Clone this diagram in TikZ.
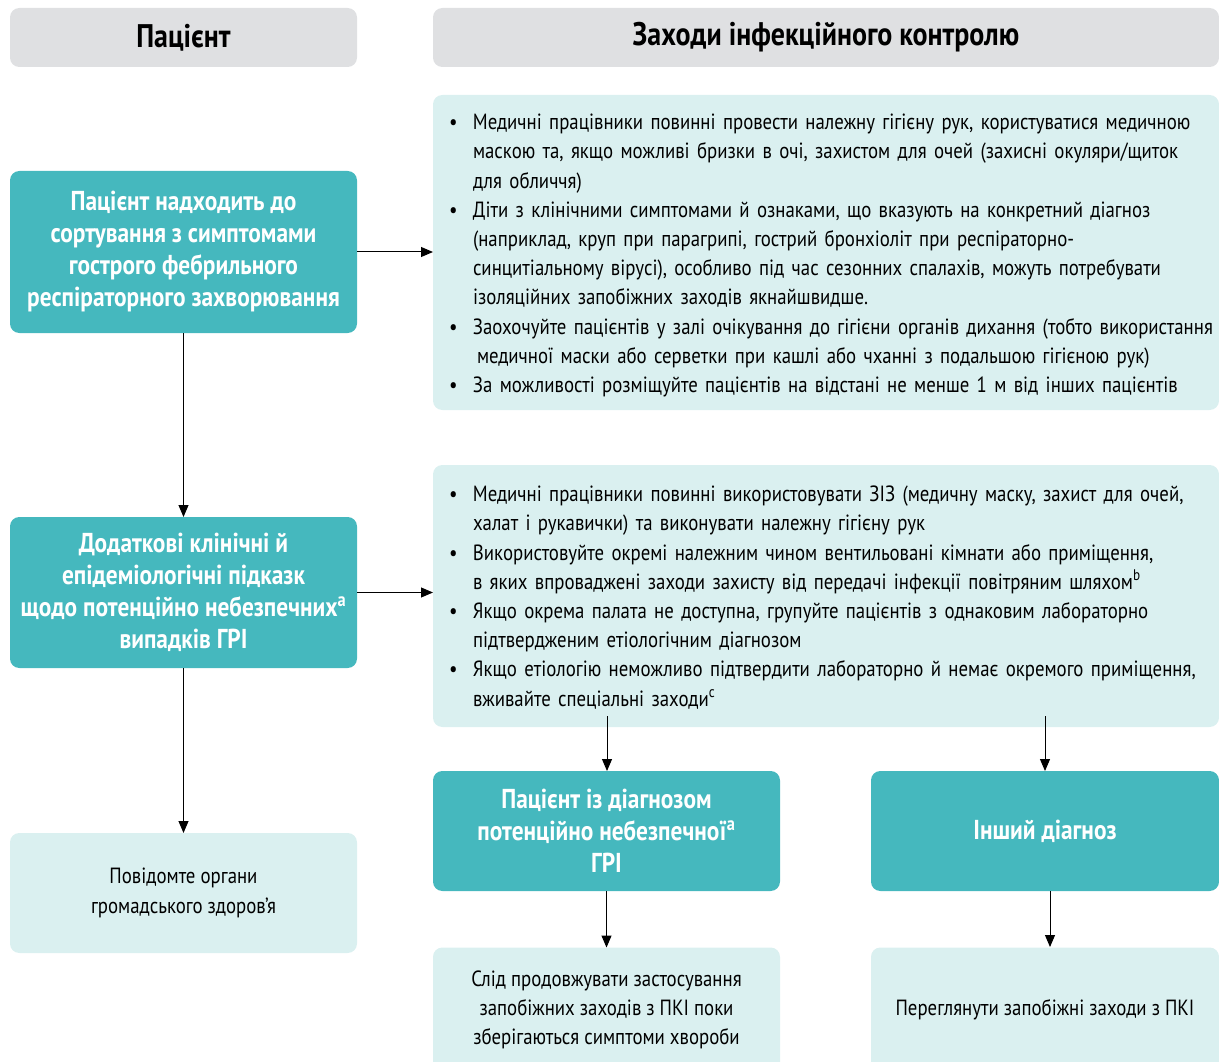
\documentclass[tikz,border=0pt]{standalone}
\usepackage{fontspec}
\setmainfont{PT Sans}[FakeStretch=0.855]
\usetikzlibrary{arrows.meta}

\definecolor{tealfill}{RGB}{69,184,190}
\definecolor{palefill}{RGB}{218,240,240}
\definecolor{headfill}{RGB}{223,224,226}

\newcommand{\bodyfont}{\fontsize{16.5}{21.9}\selectfont}
\newcommand{\boldfont}{\fontsize{20.5}{24}\selectfont\bfseries}
\newcommand{\bul}{\hspace{3pt}\textbullet}

\begin{document}
\begin{tikzpicture}[x=0.75pt,y=-0.75pt,
  boxw/.style={minimum width=#1*0.75pt},
  boxh/.style={minimum height=#1*0.75pt},
  basebox/.style={rounded corners=7pt, inner sep=0pt, outer sep=0pt, draw=none},
  headbox/.style={basebox, fill=headfill, font=\fontsize{24.5}{28}\selectfont\bfseries, text=black},
  tealbox/.style={basebox, fill=tealfill, font=\boldfont, text=white, align=center},
  palebox/.style={basebox, fill=palefill, font=\bodyfont, text=black, align=center},
  listbox/.style={basebox, fill=palefill, font=\bodyfont, text=black, align=left,
                  text width=#1*0.75pt-18pt, inner xsep=9pt},
  arr/.style={-{Triangle[length=9pt,width=7.5pt]}, line width=0.75pt, draw=black}
]
\useasboundingbox (0,0) rectangle (1219,1062);

% column headers
\node[headbox, boxw=347, boxh=59] (hpat) at (183.5,37.5) {Пацієнт};
\node[headbox, boxw=786, boxh=59] (hipc) at (826,37.5) {Заходи інфекційного контролю};

% patient column
\node[tealbox, boxw=347, boxh=162] (triage) at (183.5,252)
  {Пацієнт надходить до\\сортування з симптомами\\гострого фебрильного\\респіраторного захворювання};
\node[tealbox, boxw=347, boxh=151] (clues) at (183.5,592.5)
  {Додаткові клінічні й\\епідеміологічні підказк\\щодо потенційно небезпечних\textsuperscript{a}\\випадків ГРІ};
\node[palebox, boxw=347, boxh=120] (notify) at (183.5,893)
  {Повідомте органи\\громадського здоров’я};

% infection control column
\node[listbox=786, boxw=786, boxh=315] (ctrlA) at (826,252.5) {%
\raisebox{-2pt}[\height][\depth]{%
\begin{tabular}{@{}p{21pt}@{}l@{}}
\bul & Медичні працівники повинні провести належну гігієну рук, користуватися медичною\\
     & маскою та, якщо можливі бризки в очі, захистом для очей (захисні окуляри/щиток\\
     & для обличчя)\\
\bul & Діти з клінічними симптомами й ознаками, що вказують на конкретний діагноз\\
     & (наприклад, круп при парагрипі, гострий бронхіоліт при респіраторно-\\
     & синцитіальному вірусі), особливо під час сезонних спалахів, можуть потребувати\\
     & ізоляційних запобіжних заходів якнайшвидше.\\
\bul & Заохочуйте пацієнтів у залі очікування до гігієни органів дихання (тобто використання\\
     & \hspace{3pt}медичної маски або серветки при кашлі або чханні з подальшою гігієною рук)\\
\bul & За можливості розміщуйте пацієнтів на відстані не менше 1 м від інших пацієнтів
\end{tabular}}};

\node[listbox=786, boxw=786, boxh=262] (ctrlB) at (826,596) {%
\raisebox{-1.5pt}[\height][\depth]{%
\begin{tabular}{@{}p{21pt}@{}l@{}}
\bul & Медичні працівники повинні використовувати ЗІЗ (медичну маску, захист для очей,\\
     & халат і рукавички) та виконувати належну гігієну рук\\
\bul & Використовуйте окремі належним чином вентильовані кімнати або приміщення,\\
     & в яких впроваджені заходи захисту від передачі інфекції повітряним шляхом\textsuperscript{b}\\
\bul & Якщо окрема палата не доступна, групуйте пацієнтів з однаковим лабораторно\\
     & підтвердженим етіологічним діагнозом\\
\bul & Якщо етіологію неможливо підтвердити лабораторно й немає окремого приміщення,\\
     & вживайте спеціальні заходи\textsuperscript{c}
\end{tabular}}};

\node[tealbox, boxw=347, boxh=120] (dxhaz) at (606.5,831)
  {Пацієнт із діагнозом\\потенційно небезпечної\textsuperscript{a}\\ГРІ};
\node[tealbox, boxw=348, boxh=120] (dxother) at (1045,831) {Інший діагноз};

\node[palebox, boxw=347, boxh=125] (keep) at (606.5,1010)
  {Слід продовжувати застосування\\запобіжних заходів з ПКІ поки\\зберігаються симптоми хвороби};
\node[palebox, boxw=348, boxh=125] (review) at (1045,1010)
  {Переглянути запобіжні заходи з ПКІ};

% connectors
\coordinate (fromB1) at (607,716);
\coordinate (fromB2) at (1045,716);
\coordinate (toRev) at (1050,947);

\draw[arr] (triage.east) -- (triage.east -| ctrlA.west);
\draw[arr] (triage.south) -- (clues.north);
\draw[arr] (clues.east) -- (clues.east -| ctrlB.west);
\draw[arr] (clues.south) -- (notify.north);
\draw[arr] (fromB1) -- (fromB1 |- dxhaz.north);
\draw[arr] (fromB2) -- (fromB2 |- dxother.north);
\draw[arr] (dxhaz.south) -- (keep.north);
\draw[arr] (toRev |- dxother.south) -- (toRev);
\end{tikzpicture}
\end{document}
